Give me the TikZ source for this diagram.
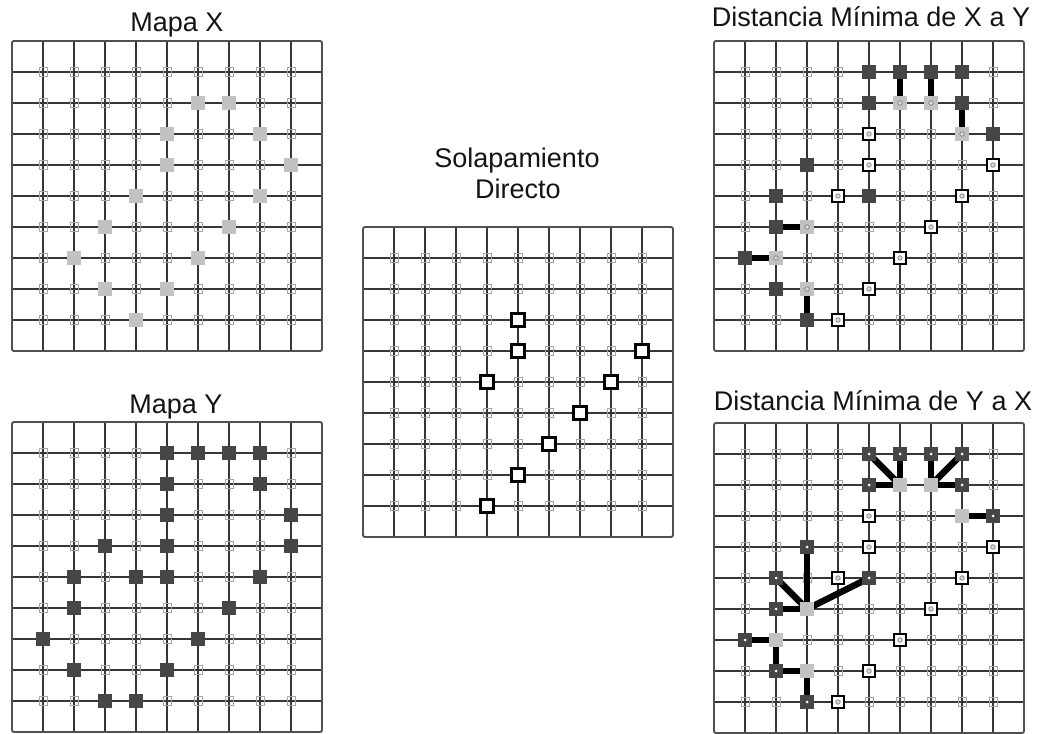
\documentclass[tikz,border=0pt]{standalone}
\usepackage{fontspec}
\setmainfont{Liberation Sans}
\definecolor{gridc}{HTML}{363636}
\definecolor{bordc}{HTML}{505050}
\definecolor{lgr}{HTML}{C2C2C2}
\definecolor{dgr}{HTML}{464646}
\definecolor{mkc}{HTML}{A5A5A5}
\newcommand\mkpanel[3]{%
  \foreach \pi in {1,...,9}{%
    \draw[gridline] ({#2+31*\pi},#3) -- ++(0,310);
    \draw[gridline] (#2,{#3+31*\pi}) -- ++(310,0);
  }
  \draw[border] (#2,#3) rectangle ++(310,310);
  \foreach \pc in {1,...,9}{%
    \foreach \pr in {1,...,9}{%
      \node[cellmk] (#1-\pc-\pr) at ({#2+31*\pc},{#3+31*\pr}) {};
    }
  }
}
\def\Xall{6/2,7/2,5/3,8/3,5/4,9/4,4/5,8/5,3/6,7/6,2/7,6/7,3/8,5/8,4/9}
\def\Yall{5/1,6/1,7/1,8/1,5/2,8/2,5/3,9/3,3/4,5/4,9/4,2/5,4/5,5/5,8/5,2/6,7/6,1/7,6/7,2/8,5/8,3/9,4/9}
\def\Oall{5/3,5/4,9/4,4/5,8/5,7/6,6/7,5/8,4/9}
\def\Xonly{6/2,7/2,8/3,3/6,2/7,3/8}
\def\Yonly{5/1,6/1,7/1,8/1,5/2,8/2,9/3,3/4,2/5,5/5,2/6,1/7,2/8,3/9}
\begin{document}
\begin{tikzpicture}[x=1pt,y=-1pt,
  gridline/.style={draw=gridc, line width=1.5pt},
  border/.style={draw=bordc, line width=1.9pt, rounded corners=2pt},
  cellmk/.style={rectangle, draw=mkc, line width=0.8pt, minimum width=8pt, minimum height=9.5pt, inner sep=0pt},
  xsq/.style={rectangle, fill=lgr, minimum size=13.5pt, inner sep=0pt},
  ysq/.style={rectangle, fill=dgr, minimum size=14pt, inner sep=0pt},
  ovsq/.style={rectangle, draw=black, fill=white, line width=2.6pt, minimum size=12pt, inner sep=0pt},
  link/.style={draw=black, line width=6.5pt},
  ring/.style={circle, draw=gray, fill=gray!30, line width=0.7pt, minimum size=4.5pt, inner sep=0pt},
  wdot/.style={circle, fill=white, minimum size=3pt, inner sep=0pt},
  ttl/.style={font=\fontsize{27}{32}\selectfont, anchor=base, text=black!92, inner sep=0pt}]
\useasboundingbox[fill=white] (0,0) rectangle (1043,733);

% titles
\node[ttl] (t1) at (177,32) {Mapa X};
\node[ttl] (t2) at (176,413) {Mapa Y};
\node[ttl] (t3a) at (517,167) {Solapamiento};
\node[ttl] (t3b) at (518,198) {Directo};
\node[ttl] (t4) at (871,27) {Distancia Mínima de X a Y};
\node[ttl] (t5) at (873,410) {Distancia Mínima de Y a X};

% panels
\mkpanel{px}{12}{41}
\mkpanel{py}{12}{422}
\mkpanel{po}{363}{227}
\mkpanel{pa}{714}{41}
\mkpanel{pb}{714}{423}

% Mapa X
\foreach \pc/\pr in \Xall {\node[xsq] (px-s-\pc-\pr) at (px-\pc-\pr) {};}
% Mapa Y
\foreach \pc/\pr in \Yall {\node[ysq] (py-s-\pc-\pr) at (py-\pc-\pr) {};}
% Solapamiento
\foreach \pc/\pr in \Oall {\node[ovsq, line width=2.8pt, minimum size=12.5pt] (po-s-\pc-\pr) at (po-\pc-\pr) {};}

% Distancia X a Y
\foreach \ua/\ub/\va/\vb in {6/2/6/1,7/2/7/1,8/3/8/2,3/6/2/6,2/7/1/7,3/8/3/9}
  {\draw[link] (pa-\ua-\ub) -- (pa-\va-\vb);}
\foreach \pc/\pr in \Yonly {\node[ysq] (pa-s-\pc-\pr) at (pa-\pc-\pr) {};}
\foreach \pc/\pr in \Xonly {\node[xsq] (pa-s-\pc-\pr) at (pa-\pc-\pr) {};
  \node[ring] (pa-d-\pc-\pr) at (pa-\pc-\pr) {};}
\foreach \pc/\pr in \Oall {\node[ovsq] (pa-s-\pc-\pr) at (pa-\pc-\pr) {};
  \node[ring] (pa-d-\pc-\pr) at (pa-\pc-\pr) {};}

% Distancia Y a X
\foreach \ua/\ub/\va/\vb in {5/1/6/2,6/1/6/2,5/2/6/2,7/1/7/2,8/1/7/2,8/2/7/2,9/3/8/3,3/4/3/6,2/5/3/6,5/5/3/6,2/6/3/6,1/7/2/7,2/8/2/7,2/8/3/8,3/9/3/8}
  {\draw[link] (pb-\ua-\ub) -- (pb-\va-\vb);}
\foreach \pc/\pr in \Yonly {\node[ysq] (pb-s-\pc-\pr) at (pb-\pc-\pr) {};
  \node[wdot] (pb-d-\pc-\pr) at (pb-\pc-\pr) {};}
\foreach \pc/\pr in \Xonly {\node[xsq] (pb-s-\pc-\pr) at (pb-\pc-\pr) {};}
\foreach \pc/\pr in \Oall {\node[ovsq] (pb-s-\pc-\pr) at (pb-\pc-\pr) {};
  \node[ring] (pb-d-\pc-\pr) at (pb-\pc-\pr) {};}
\end{tikzpicture}
\end{document}
